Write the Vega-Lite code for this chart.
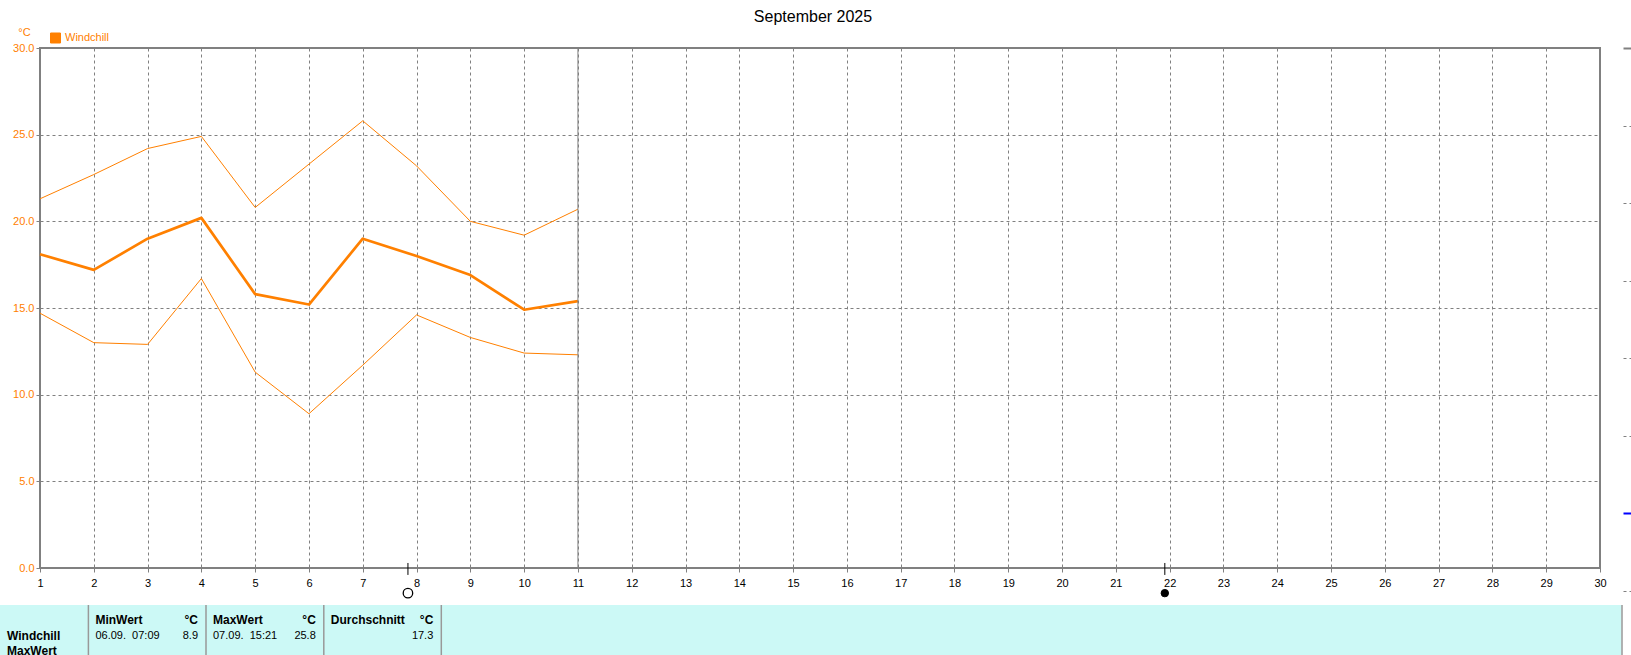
{
  "$schema": "https://vega.github.io/schema/vega-lite/v6.json",
  "width": 1560,
  "height": 520,
  "autosize": {"type": "none"},
  "padding": {"left": 40, "top": 48, "right": 31, "bottom": 87},
  "background": "white",
  "config": {
    "view": {"stroke": "#808080", "strokeWidth": 2},
    "font": "Liberation Sans",
    "axis": {"labelFont": "Liberation Sans", "titleFont": "Liberation Sans"},
    "legend": {"labelFont": "Liberation Sans"}
  },
  "title": {
    "text": "September 2025",
    "anchor": "middle",
    "frame": "group",
    "dx": -7,
    "offset": -15,
    "baseline": "bottom",
    "font": "Liberation Sans",
    "fontSize": 16,
    "fontWeight": "normal",
    "color": "black"
  },
  "datasets": {
    "windchill": [
      {"day": 1, "stat": "max", "value": 21.3}, {"day": 1, "stat": "mean", "value": 18.1}, {"day": 1, "stat": "min", "value": 14.7},
      {"day": 2, "stat": "max", "value": 22.7}, {"day": 2, "stat": "mean", "value": 17.2}, {"day": 2, "stat": "min", "value": 13.0},
      {"day": 3, "stat": "max", "value": 24.2}, {"day": 3, "stat": "mean", "value": 19.0}, {"day": 3, "stat": "min", "value": 12.9},
      {"day": 4, "stat": "max", "value": 24.9}, {"day": 4, "stat": "mean", "value": 20.2}, {"day": 4, "stat": "min", "value": 16.7},
      {"day": 5, "stat": "max", "value": 20.8}, {"day": 5, "stat": "mean", "value": 15.8}, {"day": 5, "stat": "min", "value": 11.3},
      {"day": 6, "stat": "max", "value": 23.3}, {"day": 6, "stat": "mean", "value": 15.2}, {"day": 6, "stat": "min", "value": 8.9},
      {"day": 7, "stat": "max", "value": 25.8}, {"day": 7, "stat": "mean", "value": 19.0}, {"day": 7, "stat": "min", "value": 11.7},
      {"day": 8, "stat": "max", "value": 23.2}, {"day": 8, "stat": "mean", "value": 18.0}, {"day": 8, "stat": "min", "value": 14.6},
      {"day": 9, "stat": "max", "value": 20.0}, {"day": 9, "stat": "mean", "value": 16.9}, {"day": 9, "stat": "min", "value": 13.3},
      {"day": 10, "stat": "max", "value": 19.2}, {"day": 10, "stat": "mean", "value": 14.9}, {"day": 10, "stat": "min", "value": 12.4},
      {"day": 11, "stat": "max", "value": 20.7}, {"day": 11, "stat": "mean", "value": 15.4}, {"day": 11, "stat": "min", "value": 12.3}
    ],
    "today": [{"day": 11}],
    "moon": [{"day": 7.84, "phase": "Vollmond"}, {"day": 21.91, "phase": "Neumond"}],
    "cells": [{"cell": 0}, {"cell": 1}, {"cell": 2}, {"cell": 3}, {"cell": 4}],
    "table": [
      {"cell": 0, "row": 2, "text": "Windchill", "part": "name"},
      {"cell": 0, "row": 3, "text": "MaxWert", "part": "name"},
      {"cell": 1, "row": 1, "text": "MinWert", "part": "header"},
      {"cell": 1, "row": 1, "text": "°C", "part": "unit"},
      {"cell": 1, "row": 2, "text": "06.09.\u00a0 07:09", "part": "time"},
      {"cell": 1, "row": 2, "text": "8.9", "part": "value"},
      {"cell": 2, "row": 1, "text": "MaxWert", "part": "header"},
      {"cell": 2, "row": 1, "text": "°C", "part": "unit"},
      {"cell": 2, "row": 2, "text": "07.09.\u00a0 15:21", "part": "time"},
      {"cell": 2, "row": 2, "text": "25.8", "part": "value"},
      {"cell": 3, "row": 1, "text": "Durchschnitt", "part": "header"},
      {"cell": 3, "row": 1, "text": "°C", "part": "unit"},
      {"cell": 3, "row": 2, "text": "17.3", "part": "value"}
    ]
  },
  "layer": [
    {
      "encoding": {
        "x": {
          "field": "day",
          "type": "quantitative",
          "scale": {"domain": [1, 30], "nice": false, "zero": false},
          "axis": {
            "title": null,
            "values": [1,2,3,4,5,6,7,8,9,10,11,12,13,14,15,16,17,18,19,20,21,22,23,24,25,26,27,28,29,30],
            "format": "d",
            "grid": true,
            "gridColor": "#808080",
            "gridDash": [3, 3],
            "gridWidth": 1,
            "gridOpacity": 1,
            "domain": false,
            "ticks": true,
            "tickColor": "#808080",
            "tickSize": 4,
            "tickWidth": 1,
            "labelColor": "black",
            "labelFontSize": 11,
            "labelPadding": 5,
            "labelFlush": false,
            "labelOverlap": false,
            "labelBound": false
          }
        }
      },
      "layer": [
        {
          "data": {"name": "windchill"},
          "mark": {"type": "line", "strokeJoin": "round"},
          "encoding": {
            "y": {
              "field": "value",
              "type": "quantitative",
              "scale": {"domain": [0, 30], "nice": false, "zero": false},
              "axis": {
                "values": [0, 5, 10, 15, 20, 25, 30],
                "format": ".1f",
                "grid": true,
                "gridColor": "#808080",
                "gridDash": [3, 3],
                "gridWidth": 1,
                "gridOpacity": 1,
                "domain": false,
                "ticks": true,
                "tickColor": "#808080",
                "tickSize": 4,
                "tickWidth": 1,
                "labelColor": "#FF8000",
                "labelFontSize": 11,
                "labelPadding": 2,
                "labelFlush": false,
                "labelOverlap": false,
                "labelBound": false,
                "title": "°C",
                "titleAngle": 0,
                "titleX": -16,
                "titleY": -16,
                "titleAlign": "center",
                "titleBaseline": "middle",
                "titleColor": "#FF8000",
                "titleFontWeight": "normal",
                "titleFontSize": 11
              }
            },
            "detail": {"field": "stat", "type": "nominal"},
            "strokeWidth": {"condition": {"test": "datum.stat === 'mean'", "value": 2.7}, "value": 1},
            "color": {
              "datum": "Windchill",
              "type": "nominal",
              "scale": {"domain": ["Windchill"], "range": ["#FF8000"]},
              "legend": {
                "orient": "none",
                "legendX": 10,
                "legendY": -15.5,
                "title": null,
                "padding": 0,
                "symbolType": "square",
                "symbolSize": 100,
                "symbolStrokeWidth": 1,
                "labelColor": "#FF8000",
                "labelFontSize": 11,
                "labelOffset": 4,
                "encode": {
                  "symbols": {
                    "update": {
                      "fill": {"value": "#FF8000"},
                      "stroke": {"value": "black"},
                      "strokeWidth": {"value": 1},
                      "opacity": {"value": 1}
                    }
                  }
                }
              }
            }
          }
        },
        {
          "data": {"name": "today"},
          "mark": {"type": "rule", "color": "#808080", "strokeWidth": 1},
          "encoding": {}
        },
        {
          "data": {"name": "moon"},
          "mark": {"type": "rule", "color": "black", "strokeWidth": 1},
          "encoding": {
            "y": {"datum": 0.29, "type": "quantitative", "scale": {"domain": [0, 30], "nice": false, "zero": false}},
            "y2": {"datum": -0.4}
          }
        },
        {
          "data": {"name": "moon"},
          "transform": [{"filter": "datum.phase === 'Vollmond'"}],
          "mark": {"type": "point", "shape": "circle", "filled": true, "fill": "white", "stroke": "black", "strokeWidth": 1.3, "size": 90, "opacity": 1},
          "encoding": {
            "y": {"datum": -1.45, "type": "quantitative", "scale": {"domain": [0, 30], "nice": false, "zero": false}}
          }
        },
        {
          "data": {"name": "moon"},
          "transform": [{"filter": "datum.phase === 'Neumond'"}],
          "mark": {"type": "point", "shape": "circle", "filled": true, "fill": "black", "stroke": "black", "strokeWidth": 1, "size": 55, "opacity": 1},
          "encoding": {
            "y": {"datum": -1.45, "type": "quantitative", "scale": {"domain": [0, 30], "nice": false, "zero": false}}
          }
        }
      ]
    },
    {
      "layer": [
        {
          "data": {"name": "cells"},
          "transform": [{"filter": "datum.cell === 0"}],
          "mark": {"type": "rect", "fill": "#CCF9F6"},
          "encoding": {
            "x": {"datum": 0, "type": "quantitative", "scale": {"domain": [0, 1], "range": [-40, 1581.5], "nice": false, "zero": false}, "axis": null},
            "x2": {"datum": 1},
            "y": {"datum": 0, "type": "quantitative", "scale": {"domain": [0, 1, 2, 3, 4], "range": [557, 572, 588, 603, 607], "nice": false, "zero": false}, "axis": null},
            "y2": {"datum": 4}
          }
        },
        {
          "data": {"name": "cells"},
          "mark": {"type": "rule", "color": "#999999", "strokeWidth": 1.5},
          "encoding": {
            "x": {"field": "cell", "type": "quantitative", "scale": {"domain": [0, 1, 2, 3, 4], "range": [48.4, 166, 283.8, 401.3, 1582], "nice": false, "zero": false}, "axis": null},
            "y": {"datum": 0, "type": "quantitative", "scale": {"domain": [0, 1, 2, 3, 4], "range": [557, 572, 588, 603, 607], "nice": false, "zero": false}, "axis": null},
            "y2": {"datum": 4}
          }
        },
        {
          "data": {"name": "table"},
          "transform": [{"filter": "datum.part === 'name' || datum.part === 'header'"}],
          "mark": {"type": "text", "align": "left", "baseline": "middle", "dx": 7, "font": "Liberation Sans", "fontSize": 12, "fontWeight": "bold", "color": "black"},
          "encoding": {
            "x": {"field": "cell", "type": "quantitative", "scale": {"domain": [0, 1, 2, 3], "range": [-40, 48.4, 166, 283.8], "nice": false, "zero": false}, "axis": null},
            "y": {"field": "row", "type": "quantitative", "scale": {"domain": [0, 1, 2, 3, 4], "range": [557, 572, 588, 603, 607], "nice": false, "zero": false}, "axis": null},
            "text": {"field": "text"}
          }
        },
        {
          "data": {"name": "table"},
          "transform": [{"filter": "datum.part === 'time'"}],
          "mark": {"type": "text", "align": "left", "baseline": "middle", "dx": 7, "font": "Liberation Sans", "fontSize": 11, "fontWeight": "normal", "color": "black"},
          "encoding": {
            "x": {"field": "cell", "type": "quantitative", "scale": {"domain": [0, 1, 2, 3], "range": [-40, 48.4, 166, 283.8], "nice": false, "zero": false}, "axis": null},
            "y": {"field": "row", "type": "quantitative", "scale": {"domain": [0, 1, 2, 3, 4], "range": [557, 572, 588, 603, 607], "nice": false, "zero": false}, "axis": null},
            "text": {"field": "text"}
          }
        },
        {
          "data": {"name": "table"},
          "transform": [{"filter": "datum.part === 'unit'"}],
          "mark": {"type": "text", "align": "right", "baseline": "middle", "dx": -8, "font": "Liberation Sans", "fontSize": 12, "fontWeight": "bold", "color": "black"},
          "encoding": {
            "x": {"field": "cell", "type": "quantitative", "scale": {"domain": [1, 2, 3], "range": [166, 283.8, 401.3], "nice": false, "zero": false}, "axis": null},
            "y": {"field": "row", "type": "quantitative", "scale": {"domain": [0, 1, 2, 3, 4], "range": [557, 572, 588, 603, 607], "nice": false, "zero": false}, "axis": null},
            "text": {"field": "text"}
          }
        },
        {
          "data": {"name": "table"},
          "transform": [{"filter": "datum.part === 'value'"}],
          "mark": {"type": "text", "align": "right", "baseline": "middle", "dx": -8, "font": "Liberation Sans", "fontSize": 11, "fontWeight": "normal", "color": "black"},
          "encoding": {
            "x": {"field": "cell", "type": "quantitative", "scale": {"domain": [1, 2, 3], "range": [166, 283.8, 401.3], "nice": false, "zero": false}, "axis": null},
            "y": {"field": "row", "type": "quantitative", "scale": {"domain": [0, 1, 2, 3, 4], "range": [557, 572, 588, 603, 607], "nice": false, "zero": false}, "axis": null},
            "text": {"field": "text"}
          }
        }
      ],
      "resolve": {"scale": {"x": "independent"}}
    },
    {
      "data": {"values": [{"panel": "rechts"}]},
      "mark": {"type": "rule", "opacity": 0},
      "encoding": {
        "y": {
          "datum": 0,
          "type": "quantitative",
          "scale": {"domain": [0, 7], "range": [543, 0], "nice": false, "zero": false},
          "axis": {
            "orient": "right",
            "offset": 23,
            "values": [0, 1, 2, 3, 4, 5, 6, 7],
            "domain": false,
            "labels": false,
            "grid": false,
            "title": null,
            "ticks": true,
            "tickSize": 8,
            "tickColor": {"condition": {"test": "datum.value === 1", "value": "#0000FF"}, "value": "#808080"},
            "tickDash": {"condition": {"test": "datum.value === 1 || datum.value === 7", "value": []}, "value": [3, 3]},
            "tickWidth": {"condition": {"test": "datum.value === 1 || datum.value === 7", "value": 2}, "value": 1}
          }
        }
      }
    }
  ],
  "resolve": {"scale": {"x": "independent", "y": "independent"}}
}
